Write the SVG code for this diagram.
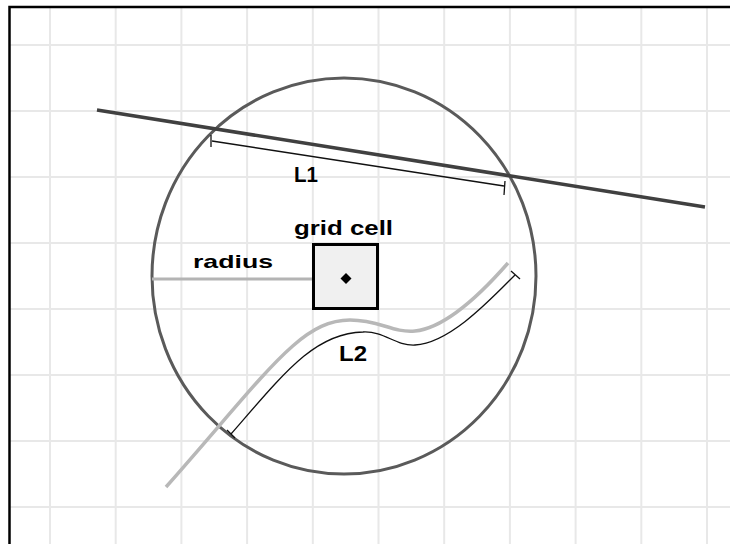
<svg xmlns="http://www.w3.org/2000/svg" width="730" height="544" viewBox="0 0 730 544">
<style>
.grid line{stroke:#e8e8e8;stroke-width:2}
.lbl{font-family:"Liberation Sans",Arial,sans-serif;font-weight:bold;fill:#000}
.thin{stroke:#111;stroke-width:1.3;fill:none}
</style>
<rect x="0" y="0" width="730" height="544" fill="#fff"/>
<g id="grid" class="grid">
<line x1="50" y1="7" x2="50" y2="544"/>
<line x1="115.7" y1="7" x2="115.7" y2="544"/>
<line x1="181.4" y1="7" x2="181.4" y2="544"/>
<line x1="247.1" y1="7" x2="247.1" y2="544"/>
<line x1="312.8" y1="7" x2="312.8" y2="544"/>
<line x1="378.5" y1="7" x2="378.5" y2="544"/>
<line x1="444.2" y1="7" x2="444.2" y2="544"/>
<line x1="509.9" y1="7" x2="509.9" y2="544"/>
<line x1="575.6" y1="7" x2="575.6" y2="544"/>
<line x1="641.3" y1="7" x2="641.3" y2="544"/>
<line x1="707" y1="7" x2="707" y2="544"/>
<line x1="10" y1="45" x2="730" y2="45"/>
<line x1="10" y1="111" x2="730" y2="111"/>
<line x1="10" y1="177" x2="730" y2="177"/>
<line x1="10" y1="243" x2="730" y2="243"/>
<line x1="10" y1="309" x2="730" y2="309"/>
<line x1="10" y1="375" x2="730" y2="375"/>
<line x1="10" y1="441" x2="730" y2="441"/>
<line x1="10" y1="507" x2="730" y2="507"/>
</g>
<rect id="frame" x="9.5" y="7" width="800" height="600" fill="none" stroke="#000" stroke-width="2.5"/>
<g id="search-circle">
<ellipse cx="344" cy="276" rx="192" ry="198" fill="none" stroke="#5a5a5a" stroke-width="3"/>
</g>
<g id="connectors">
<line id="radius-line" x1="152" y1="279" x2="343" y2="279" stroke="#b4b4b4" stroke-width="3"/>
<line id="line-L1" x1="97" y1="110" x2="705" y2="207" stroke="#404040" stroke-width="3.5"/>
<path id="curve-gray" d="M166,487 C267,373 300,320 350,320 C380,320 392,333 415,331 C445,328 480,295 508,263" fill="none" stroke="#b8b8b8" stroke-width="3.5"/>
<g id="measure-L1">
<line class="thin" x1="212" y1="141" x2="504" y2="186"/>
<line class="thin" x1="211" y1="135" x2="211" y2="147"/>
<line class="thin" x1="505" y1="181" x2="504" y2="195"/>
</g>
<g id="measure-L2">
<path class="thin" d="M231,434 C285,372 315,333 363,332 C385,331 395,346 415,345 C450,343 490,300 515,275" stroke-width="1.6"/>
<line class="thin" x1="227" y1="430" x2="235" y2="438"/>
<line class="thin" x1="511" y1="271" x2="520" y2="279"/>
</g>
</g>
<g id="grid-cell">
<rect x="313.5" y="244.5" width="64" height="64" fill="#f0f0f0" stroke="#000" stroke-width="3"/>
<polygon points="346,273 351.5,278.5 346,284 340.5,278.5" fill="#000"/>
<text class="lbl" x="294" y="235" font-size="20" textLength="99" lengthAdjust="spacingAndGlyphs">grid cell</text>
</g>
<g id="labels">
<text class="lbl" x="193" y="268" font-size="18.5" textLength="80" lengthAdjust="spacingAndGlyphs">radius</text>
<text class="lbl" x="294" y="182" font-size="22.5" textLength="24" lengthAdjust="spacingAndGlyphs">L1</text>
<text class="lbl" x="339" y="361" font-size="22.5" textLength="28" lengthAdjust="spacingAndGlyphs">L2</text>
</g>
</svg>
